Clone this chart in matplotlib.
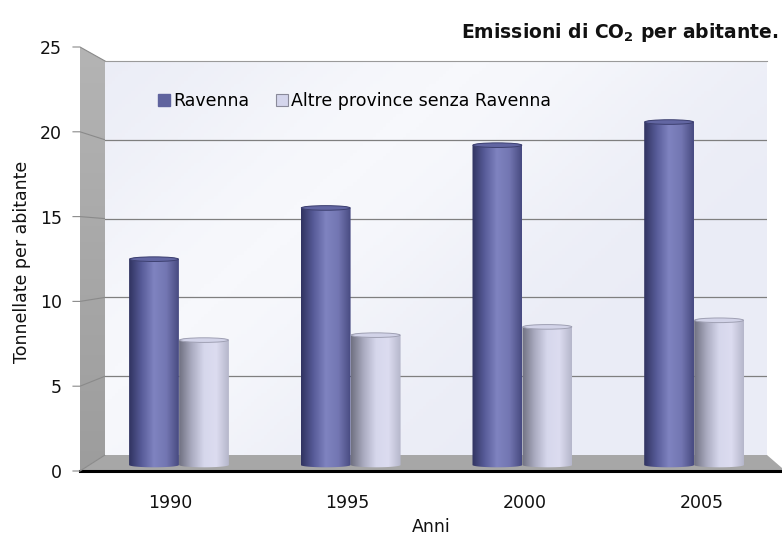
import numpy as np
import matplotlib
matplotlib.use("Agg")
import matplotlib.pyplot as plt
from matplotlib.patches import Polygon, Ellipse, Patch
from matplotlib.colors import LinearSegmentedColormap

# data
years = ["1990", "1995", "2000", "2005"]
ravenna = [12.6, 15.7, 19.5, 20.9]
altre = [7.7, 8.0, 8.5, 8.9]
series_names = ["Ravenna", "Altre province senza Ravenna"]
y_ticks = [0, 5, 10, 15, 20, 25]

W, H = 782, 541
plt.rcParams["font.family"] = ["DejaVu Sans"]
plt.rcParams["mathtext.default"] = "regular"


def fx(px):
    return px / W


def fy(py):
    return 1 - py / H


fig = plt.figure(figsize=(W / 100, H / 100), dpi=100)
fig.patch.set_facecolor("white")

# background layer in pixel coords (walls, floor)
ax_bg = fig.add_axes([0, 0, 1, 1], zorder=0)
ax_bg.set_xlim(0, W)
ax_bg.set_ylim(H, 0)
ax_bg.axis("off")

front_x, back_x, right_x = 80, 105, 767
front_y0, front_y25 = 471, 47
back_y0, back_y25 = 455, 61


def front_y(v):
    return front_y0 + (front_y25 - front_y0) * v / 25


def back_y(v):
    return back_y0 + (back_y25 - back_y0) * v / 25


# left wall
wall = Polygon([(front_x, front_y25), (back_x, back_y25), (back_x, back_y0), (front_x, front_y0)],
               closed=True, facecolor="none", edgecolor="none")
ax_bg.add_patch(wall)
wall_cmap = LinearSegmentedColormap.from_list("wall", ["#b4b4b4", "#a8a8a8", "#9d9d9d"])
im = ax_bg.imshow(np.linspace(0, 1, 128).reshape(-1, 1), cmap=wall_cmap,
                  extent=(front_x, back_x, front_y0, front_y25), aspect="auto", origin="upper")
im.set_clip_path(wall)

# floor
floor = Polygon([(front_x, front_y0), (W, front_y0), (W, 468), (right_x, back_y0), (back_x, back_y0)],
                closed=True, facecolor="#a7a7a7", edgecolor="none")
ax_bg.add_patch(floor)
ax_bg.plot([front_x, W], [front_y0 - 0.5, front_y0 - 0.5], color="black", lw=2.2)

# grid lines running over the left wall
for v in y_ticks:
    ax_bg.plot([front_x - 7, front_x, back_x], [front_y(v), front_y(v), back_y(v)],
               color="#8a8a8a", lw=0.8)

# back wall
ax_back = fig.add_axes([fx(back_x), fy(back_y0), (right_x - back_x) / W, (back_y0 - back_y25) / H], zorder=1)
xx, yy = np.meshgrid(np.linspace(0, 1, 200), np.linspace(0, 1, 120))
shade = np.exp(-((xx * 0.9 + (1 - yy) * 0.6 - 0.5) ** 2) / 0.12)
back_cmap = LinearSegmentedColormap.from_list("back", ["#eaecf6", "#f7f8fc"])
ax_back.imshow(shade, cmap=back_cmap, extent=(0, 1, 0, 25), aspect="auto", origin="lower", zorder=0)
ax_back.set_xlim(0, 1)
ax_back.set_ylim(0, 25)
ax_back.set_yticks(y_ticks[1:-1])
ax_back.set_xticks([])
ax_back.tick_params(left=False, labelleft=False)
ax_back.grid(axis="y", color="#7f7f7f", lw=0.9)
ax_back.set_axisbelow(False)
for s in ["left", "right", "bottom"]:
    ax_back.spines[s].set_visible(False)
ax_back.spines["top"].set_color("#9a9a9a")

# front value axis (tick labels only)
ax_front = fig.add_axes([fx(front_x), fy(front_y0), (back_x - front_x) / W, (front_y0 - front_y25) / H], zorder=2)
ax_front.set_facecolor("none")
ax_front.set_ylim(0, 25)
ax_front.set_yticks(y_ticks)
ax_front.set_xticks([])
for s in ax_front.spines.values():
    s.set_visible(False)
ax_front.tick_params(axis="y", length=0, pad=13, labelsize=12.5, labelcolor="#111111")

# bars layer (a little room below zero for the rounded cylinder bottoms)
bar_base, bar_top25 = 465, 52
px_per_unit = (bar_base - bar_top25) / 25
y_low = -0.5
ax_bottom_px = bar_base - y_low * px_per_unit
ax = fig.add_axes([fx(front_x), fy(ax_bottom_px), (W - front_x) / W, (ax_bottom_px - bar_top25) / H], zorder=3)
ax.set_facecolor("none")
for s in ax.spines.values():
    s.set_visible(False)

rav_cmap = LinearSegmentedColormap.from_list("rav", ["#303360", "#575b98", "#7f83c0", "#7376b2", "#474a80"])
alt_cmap = LinearSegmentedColormap.from_list("alt", ["#6f7080", "#a9aabf", "#d6d7ec", "#dcdcf0", "#b5b6ca"])

bar_w = 0.29
offsets = [-0.1456, 0.1456]
cap_h = 0.28


def cylinder(xc, top, cmap, cap_face, cap_edge):
    t = np.linspace(0, np.pi, 40)
    xs = np.concatenate([xc + bar_w / 2 * np.cos(t), xc + bar_w / 2 * np.cos(t + np.pi)])
    ys = np.concatenate([top - cap_h / 2 + cap_h / 2 * np.sin(t),
                         cap_h / 2 * np.sin(t + np.pi)])
    outline = Polygon(np.column_stack([xs, ys]), closed=True, facecolor="none", edgecolor="none")
    ax.add_patch(outline)
    img = ax.imshow(np.linspace(0, 1, 256).reshape(1, -1), cmap=cmap,
                    extent=(xc - bar_w / 2, xc + bar_w / 2, -cap_h, top), aspect="auto",
                    origin="lower", zorder=3, interpolation="bicubic")
    img.set_clip_path(outline)
    ax.add_patch(Ellipse((xc, top - cap_h / 2), bar_w * 0.98, cap_h, facecolor=cap_face,
                         edgecolor=cap_edge, lw=0.7, zorder=4))


x = np.arange(len(years))
for i in range(len(years)):
    cylinder(x[i] + offsets[0], ravenna[i], rav_cmap, "#6266a2", "#3d4070")
    cylinder(x[i] + offsets[1], altre[i], alt_cmap, "#d2d3e8", "#a0a1b4")

ax.set_xlim(-0.5766, 3.512)
ax.set_ylim(y_low, 25)
ax.set_yticks([])
# labels sit on the front edge, slightly spread by the perspective
ax.set_xticks(x * 1.032 - 0.05, years)
ax.tick_params(axis="x", length=0, pad=15, labelsize=12.5, labelcolor="#111111")
ax.set_xlabel("Anni", fontsize=12.5, labelpad=4, color="#111111")

fig.text(fx(22), fy(262), "Tonnellate per abitante", rotation=90, ha="center", va="center",
         fontsize=12.5, color="#111111")
fig.text(fx(778), fy(32), "Emissioni di CO$_2$ per abitante.", ha="right", va="center",
         fontsize=13.5, fontweight="bold", color="#111111")

handles = [Patch(facecolor="#5f639e", edgecolor="#5f639e"),
           Patch(facecolor="#d4d5ec", edgecolor="#8a8a9a", lw=0.8)]
fig.legend(handles, series_names, loc="center left", bbox_to_anchor=(fx(158), fy(101)), ncol=2,
           frameon=False, fontsize=12.5, handlelength=0.7, handleheight=0.7, handletextpad=0.2,
           columnspacing=1.5, borderaxespad=0, borderpad=0)

fig.savefig("out.png", dpi=100)
